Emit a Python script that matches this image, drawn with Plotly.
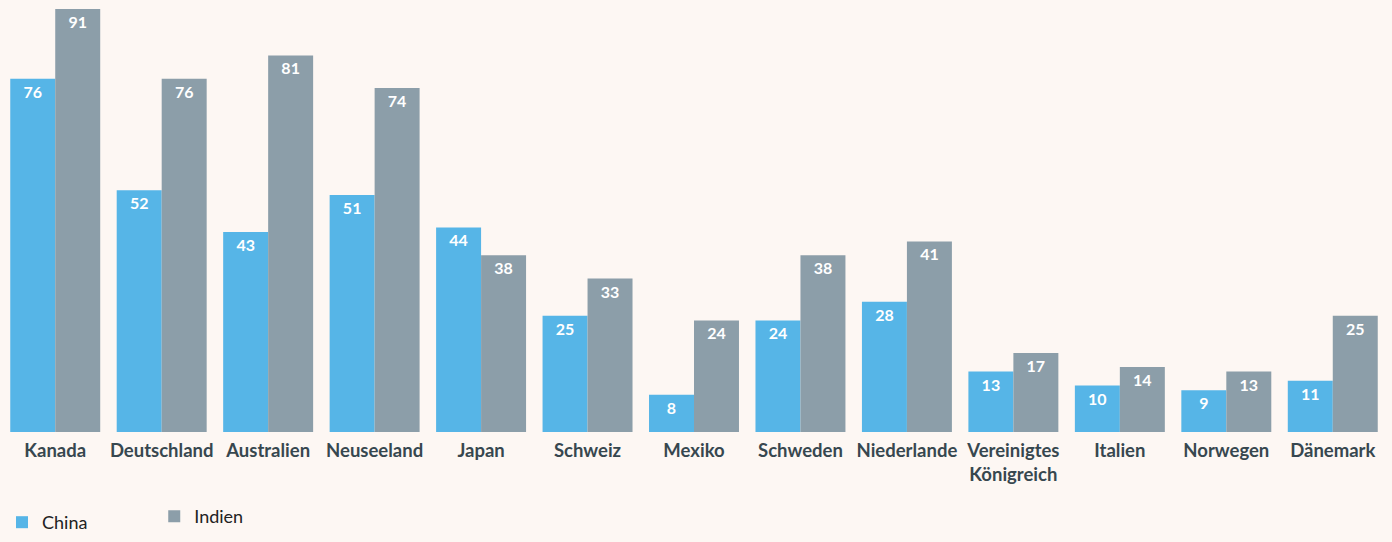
import plotly.graph_objects as go

categories = ["Kanada", "Deutschland", "Australien", "Neuseeland", "Japan", "Schweiz",
              "Mexiko", "Schweden", "Niederlande", "Vereinigtes<br>Königreich",
              "Italien", "Norwegen", "Dänemark"]
china = [76, 52, 43, 51, 44, 25, 8, 24, 28, 13, 10, 9, 11]
indien = [91, 76, 81, 74, 38, 33, 24, 38, 41, 17, 14, 13, 25]

BG = "#fdf7f3"
BLUE = "#56b5e7"
GRAY = "#8c9ea9"
FONT = "Lato"

fig = go.Figure()
fig.add_trace(go.Bar(
    name="China", x=categories, y=china, marker=dict(color=BLUE, line=dict(width=0)),
    text=china, textposition="inside", insidetextanchor="end",
    textfont=dict(color="white", size=16, family=FONT, weight="bold"),
    textangle=0, legend="legend",
))
fig.add_trace(go.Bar(
    name="Indien", x=categories, y=indien, marker=dict(color=GRAY, line=dict(width=0)),
    text=indien, textposition="inside", insidetextanchor="end",
    textfont=dict(color="white", size=16, family=FONT, weight="bold"),
    textangle=0, legend="legend2",
))

fig.update_layout(
    width=1392, height=542,
    paper_bgcolor=BG, plot_bgcolor=BG,
    barmode="group", bargap=0.155, bargroupgap=0,
    margin=dict(l=2, r=6, t=9, b=109),
    font=dict(family=FONT, color="#37474f"),
    xaxis=dict(tickfont=dict(size=18.5, family=FONT, weight="bold", color="#37474f"),
               showgrid=False, zeroline=False, showline=False, ticks="outside",
               ticklen=2, tickcolor="rgba(0,0,0,0)"),
    yaxis=dict(range=[0, 91], visible=False, showgrid=False, zeroline=False),
    uniformtext=dict(minsize=16, mode="show"),
    legend=dict(x=0, y=-0.2547, xanchor="left", yanchor="bottom",
                bgcolor="rgba(0,0,0,0)", font=dict(size=18, color="#222222", family=FONT)),
    legend2=dict(x=0.11, y=-0.2405, xanchor="left", yanchor="bottom",
                 bgcolor="rgba(0,0,0,0)", font=dict(size=18, color="#222222", family=FONT)),
    showlegend=True,
)

fig.write_html("out.html", config={"displayModeBar": False},
               post_script="document.body.style.margin='0';")
